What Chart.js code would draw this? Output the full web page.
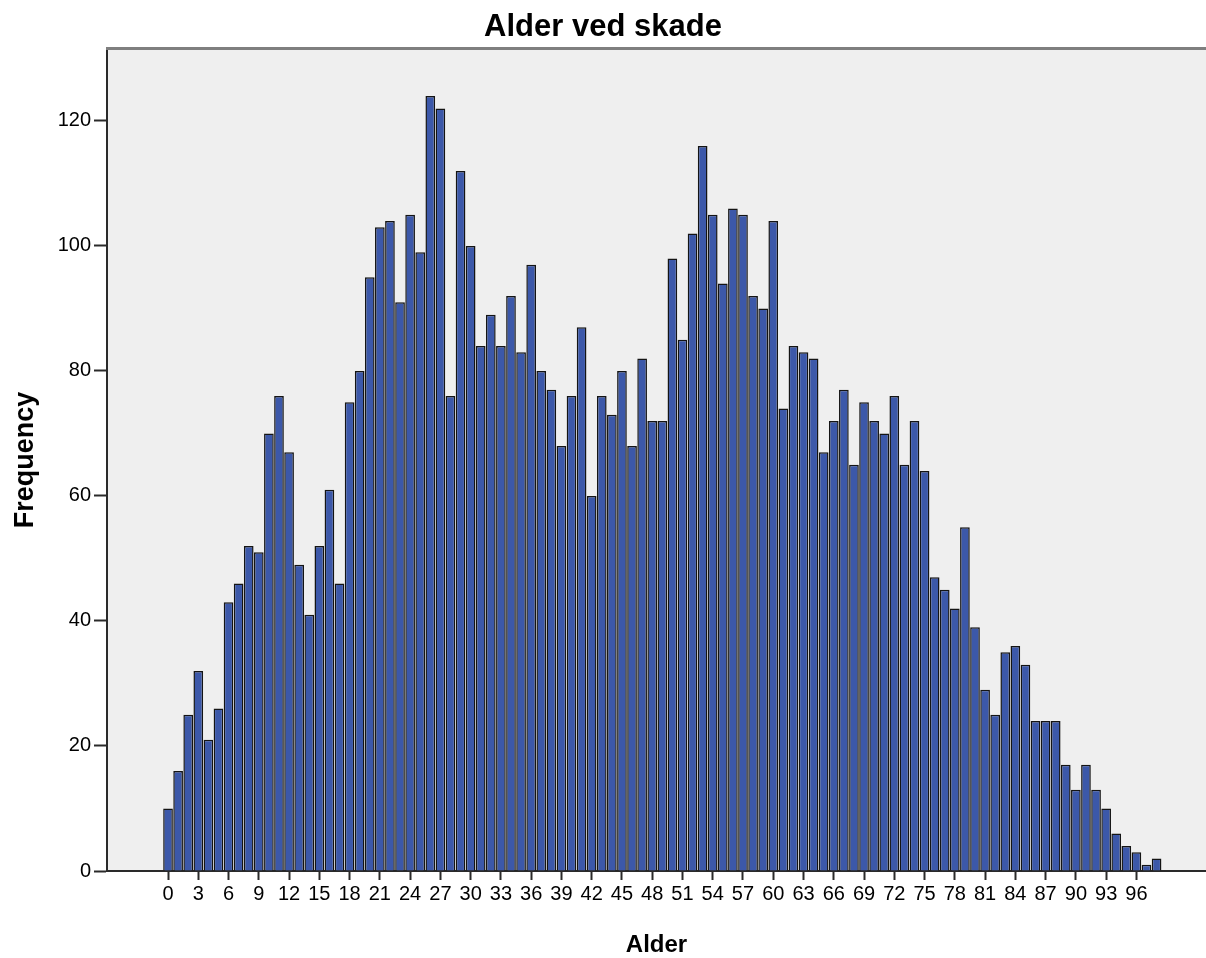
<!DOCTYPE html>
<html>
<head>
<meta charset="utf-8">
<script src="https://cdn.jsdelivr.net/npm/chart.js@4/dist/chart.umd.min.js"></script>
<style>
  html, body { margin: 0; padding: 0; background: #ffffff; }
  canvas { display: block; }
</style>
</head>
<body>
<canvas id="c" width="1206" height="958"></canvas>
<script>
// ---- data ----
const chartTitle = "Alder ved skade";
const xTitle = "Alder";
const yTitle = "Frequency";

const ages = [
  0, 1, 2, 3, 4, 5, 6, 7, 8, 9,
  10, 11, 12, 13, 14, 15, 16, 17, 18, 19,
  20, 21, 22, 23, 24, 25, 26, 27, 28, 29,
  30, 31, 32, 33, 34, 35, 36, 37, 38, 39,
  40, 41, 42, 43, 44, 45, 46, 47, 48, 49,
  50, 51, 52, 53, 54, 55, 56, 57, 58, 59,
  60, 61, 62, 63, 64, 65, 66, 67, 68, 69,
  70, 71, 72, 73, 74, 75, 76, 77, 78, 79,
  80, 81, 82, 83, 84, 85, 86, 87, 88, 89,
  90, 91, 92, 93, 94, 95, 96, 97, 98
];

const frequency = [
  10, 16, 25, 32, 21, 26, 43, 46, 52, 51,
  70, 76, 67, 49, 41, 52, 61, 46, 75, 80,
  95, 103, 104, 91, 105, 99, 124, 122, 76, 112,
  100, 84, 89, 84, 92, 83, 97, 80, 77, 68,
  76, 87, 60, 76, 73, 80, 68, 82, 72, 72,
  98, 85, 102, 116, 105, 94, 106, 105, 92, 90,
  104, 74, 84, 83, 82, 67, 72, 77, 65, 75,
  72, 70, 76, 65, 72, 64, 47, 45, 42, 55,
  39, 29, 25, 35, 36, 33, 24, 24, 24, 17,
  13, 17, 13, 10, 6, 4, 3, 1, 2
];

const xTickValues = [0, 3, 6, 9, 12, 15, 18, 21, 24, 27, 30, 33, 36, 39, 42, 45, 48,
  51, 54, 57, 60, 63, 66, 69, 72, 75, 78, 81, 84, 87, 90, 93, 96];
const yTickValues = [0, 20, 40, 60, 80, 100, 120];

// ---- chart ----
const FONT = "'Liberation Sans', Arial, sans-serif";

const plotBg = {
  id: 'plotBg',
  beforeDraw(chart) {
    const {ctx, chartArea: a} = chart;
    ctx.save();
    ctx.fillStyle = '#ffffff';
    ctx.fillRect(0, 0, chart.width, chart.height);
    ctx.fillStyle = '#efefef';
    ctx.fillRect(a.left, a.top, a.right - a.left, a.bottom - a.top);
    ctx.restore();
  },
  afterDraw(chart) {
    const {ctx, chartArea: a} = chart;
    ctx.save();
    ctx.strokeStyle = '#7f7f7f';
    ctx.lineWidth = 3;
    ctx.beginPath();
    ctx.moveTo(a.left - 1, a.top - 0.5);
    ctx.lineTo(a.right, a.top - 0.5);
    ctx.stroke();
    ctx.restore();
  }
};

new Chart(document.getElementById('c'), {
  type: 'bar',
  data: {
    datasets: [{
      data: ages.map((a, i) => ({x: a, y: frequency[i]})),
      backgroundColor: '#3c58a9',
      borderColor: '#141414',
      borderWidth: 1.5,
      borderSkipped: 'bottom',
      barPercentage: 0.96,
      categoryPercentage: 1.0
    }]
  },
  options: {
    responsive: false,
    animation: false,
    layout: { padding: 0 },
    plugins: {
      legend: { display: false },
      tooltip: { enabled: false },
      title: {
        display: true,
        text: chartTitle,
        color: '#000000',
        font: { family: FONT, size: 31, weight: 'bold', lineHeight: 1.2 },
        padding: { top: 9, bottom: 2.8 }
      }
    },
    scales: {
      x: {
        type: 'linear',
        offset: false,
        min: -6.05,
        max: 102.9,
        afterFit(scale) { scale.height = 87; },
        afterBuildTicks(scale) { scale.ticks = xTickValues.map(v => ({value: v})); },
        ticks: {
          autoSkip: false,
          maxRotation: 0,
          color: '#000000',
          padding: 2,
          font: { family: FONT, size: 20 },
          callback: (v) => String(v)
        },
        grid: {
          offset: false,
          drawOnChartArea: false,
          drawTicks: true,
          tickLength: 9,
          tickColor: '#2a2a2a',
          tickWidth: 2
        },
        border: { display: true, color: '#2a2a2a', width: 2 },
        title: {
          display: true,
          text: xTitle,
          color: '#000000',
          font: { family: FONT, size: 24, weight: 'bold', lineHeight: 1 },
          padding: { top: 0, bottom: 1 }
        }
      },
      y: {
        type: 'linear',
        min: 0,
        max: 131.5,
        afterFit(scale) { scale.width = 107; },
        afterBuildTicks(scale) { scale.ticks = yTickValues.map(v => ({value: v})); },
        ticks: {
          color: '#000000',
          padding: 3,
          font: { family: FONT, size: 20 }
        },
        grid: {
          drawOnChartArea: false,
          drawTicks: true,
          tickLength: 13,
          tickColor: '#2a2a2a',
          tickWidth: 2
        },
        border: { display: true, color: '#2a2a2a', width: 2 },
        title: {
          display: true,
          text: yTitle,
          color: '#000000',
          font: { family: FONT, size: 27, weight: 'bold', lineHeight: 1.2 },
          padding: { top: 9, bottom: 0 }
        }
      }
    }
  },
  plugins: [plotBg]
});
</script>
</body>
</html>
